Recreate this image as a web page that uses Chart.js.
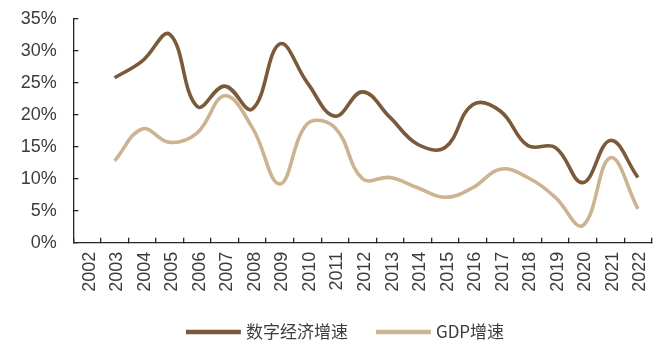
<!DOCTYPE html>
<html>
<head>
<meta charset="utf-8">
<script src="https://cdn.jsdelivr.net/npm/chart.js@4/dist/chart.umd.min.js"></script>
<style>
  html, body { margin: 0; padding: 0; background: #ffffff; }
  #wrap { width: 664px; height: 341px; position: relative; }
</style>
</head>
<body>
<div id="wrap"><canvas id="c"></canvas></div>
<script>
// Years on the category axis
const years = ['2002','2003','2004','2005','2006','2007','2008','2009','2010','2011','2012',
               '2013','2014','2015','2016','2017','2018','2019','2020','2021','2022'];

// Growth rates, percent
const digitalEconomyGrowth = [null, 25.8, 28.4, 32.6, 21.3, 24.5, 20.9, 31.1, 25.0, 19.8, 23.6,
                              19.6, 15.4, 14.9, 21.6, 20.6, 15.2, 14.9, 9.4, 16.0, 10.2];
const gdpGrowth = [null, 12.8, 17.8, 15.7, 17.2, 23.0, 18.0, 9.2, 18.6, 18.0, 10.0,
                   10.2, 8.6, 7.1, 8.6, 11.5, 10.2, 7.1, 2.7, 13.3, 5.3];

const seriesNames = ['数字经济增速', 'GDP增速'];
const yTicks = [0, 5, 10, 15, 20, 25, 30, 35];

const DARK = '#7a5a3a';
const LIGHT = '#ccb391';
const AXIS = '#262626';
const TEXT = '#3c3c3c';
const LEGEND_FONT = '17px "Noto Sans CJK SC", "Liberation Sans", sans-serif';

// Bottom legend: a short line sample followed by the series name
const lineLegend = {
  id: 'lineLegend',
  afterDraw(chart) {
    const ctx = chart.ctx;
    const sets = chart.data.datasets;
    const sampleW = 55, textGap = 5, itemGap = 28, y = 332;
    ctx.save();
    ctx.font = LEGEND_FONT;
    const widths = sets.map(d => ctx.measureText(d.label).width);
    let total = 0;
    widths.forEach((w, i) => { total += sampleW + textGap + w + (i ? itemGap : 0); });
    let x = 345 - total / 2;
    sets.forEach((d, i) => {
      if (i) x += itemGap;
      ctx.strokeStyle = d.borderColor;
      ctx.lineWidth = 4.5;
      ctx.lineCap = 'butt';
      ctx.beginPath();
      ctx.moveTo(x, y);
      ctx.lineTo(x + sampleW, y);
      ctx.stroke();
      x += sampleW + textGap;
      ctx.fillStyle = TEXT;
      ctx.textBaseline = 'middle';
      ctx.textAlign = 'left';
      ctx.fillText(d.label, x, y);
      x += widths[i];
    });
    ctx.restore();
  }
};

const noScalePadding = (s) => { s.paddingLeft = 0; s.paddingRight = 0; s.paddingTop = 0; s.paddingBottom = 0; };

new Chart(document.getElementById('c'), {
  type: 'line',
  data: {
    labels: years,
    datasets: [
      { label: seriesNames[0], data: digitalEconomyGrowth, borderColor: DARK, backgroundColor: DARK,
        borderWidth: 3.6, tension: 0.4, pointRadius: 0, fill: false },
      { label: seriesNames[1], data: gdpGrowth, borderColor: LIGHT, backgroundColor: LIGHT,
        borderWidth: 3.6, tension: 0.4, pointRadius: 0, fill: false }
    ]
  },
  plugins: [lineLegend],
  options: {
    responsive: true,
    maintainAspectRatio: false,
    animation: false,
    events: [],
    layout: { padding: { top: 19, left: 0, right: 12.3, bottom: 38.3 } },
    plugins: {
      tooltip: { enabled: false },
      legend: { display: false }
    },
    scales: {
      x: {
        type: 'category',
        offset: true,
        afterFit: (s) => { s.height = 60; noScalePadding(s); },
        grid: { display: true, drawOnChartArea: false, offset: true, tickLength: -5, color: AXIS, lineWidth: 1.3 },
        border: { display: true, color: AXIS, width: 1.3 },
        ticks: {
          autoSkip: false,
          minRotation: 90,
          maxRotation: 90,
          padding: 14,
          labelOffset: 2.5,
          color: TEXT,
          font: { family: '"Liberation Sans", Arial, sans-serif', size: 18 }
        }
      },
      y: {
        min: 0,
        max: 35,
        afterFit: (s) => { s.width = 73.3; noScalePadding(s); },
        afterBuildTicks: (s) => { s.ticks = yTicks.map(v => ({ value: v })); },
        grid: { display: true, drawOnChartArea: false, tickLength: -5, color: AXIS, lineWidth: 1.3 },
        border: { display: true, color: AXIS, width: 1.3 },
        ticks: {
          padding: 21.5,
          color: TEXT,
          font: { family: '"Liberation Sans", Arial, sans-serif', size: 18 },
          callback: (v) => v + '%'
        }
      }
    }
  }
});
</script>
</body>
</html>
